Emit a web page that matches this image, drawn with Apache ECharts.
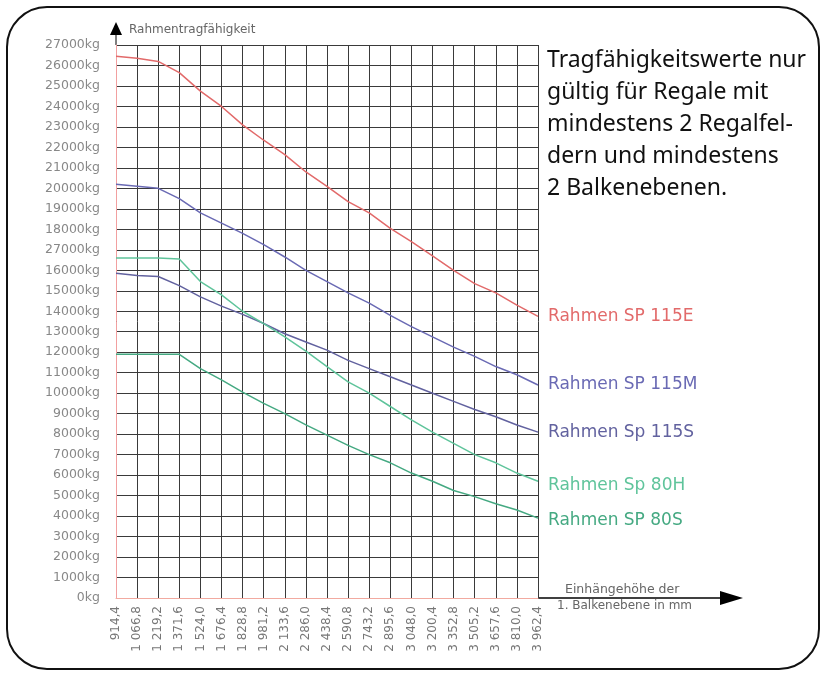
<!DOCTYPE html>
<html>
<head>
<meta charset="utf-8">
<script src="https://cdn.jsdelivr.net/npm/echarts@6/dist/echarts.min.js"></script>
<style>html,body{margin:0;padding:0;background:#fff;}#c{width:828px;height:675px;}</style>
</head>
<body>
<div id="c"></div>
<script>
const categories = ['914,4','1 066,8','1 219,2','1 371,6','1 524,0','1 676,4','1 828,8','1 981,2','2 133,6','2 286,0','2 438,4','2 590,8','2 743,2','2 895,6','3 048,0','3 200,4','3 352,8','3 505,2','3 657,6','3 810,0','3 962,4'];
const yTickLabels = ['0kg','1000kg','2000kg','3000kg','4000kg','5000kg','6000kg','7000kg','8000kg','9000kg','10000kg','11000kg','12000kg','13000kg','14000kg','15000kg','16000kg','27000kg','18000kg','19000kg','20000kg','21000kg','22000kg','23000kg','24000kg','25000kg','26000kg','27000kg'];
const seriesNames = ['Rahmen SP 115E','Rahmen SP 115M','Rahmen Sp 115S','Rahmen Sp 80H','Rahmen SP 80S'];
const sp115E = [26450,26350,26200,25650,24750,24000,23100,22350,21650,20800,20100,19350,18800,18050,17400,16700,16000,15350,14900,14300,13750];
const sp115M = [20200,20100,20000,19500,18800,18300,17800,17250,16650,16000,15450,14900,14400,13800,13250,12750,12250,11800,11300,10900,10400];
const sp115S = [15850,15750,15700,15250,14700,14250,13850,13400,12900,12500,12100,11600,11200,10800,10400,10000,9600,9200,8850,8450,8100];
const sp80H = [16600,16600,16600,16550,15450,14800,14000,13400,12750,12050,11300,10550,10000,9350,8700,8100,7550,7000,6600,6100,5700];
const sp80S = [11900,11900,11900,11900,11200,10650,10050,9500,9000,8450,7950,7450,7000,6600,6100,5700,5250,4950,4600,4300,3900];
const noteLines = ['Tragfähigkeitswerte nur','gültig für Regale mit','mindestens 2 Regalfel-','dern und mindestens','2 Balkenebenen.'];

const lineColors = ['#e26a6a','#6a6ab4','#62629f','#5fc49b','#45a982'];
const labelOffsets = [[0,0],[0,0],[0,0],[0,4],[0,2]];
const allData = [sp115E, sp115M, sp115S, sp80H, sp80S];

const chart = echarts.init(document.getElementById('c'), null, {renderer:'canvas'});
chart.setOption({
  backgroundColor:'#fff',
  animation:false,
  grid:{left:116, top:45, right:290, bottom:77, containLabel:false},
  xAxis:{
    type:'category', data:categories, boundaryGap:false,
    axisLine:{show:true, lineStyle:{color:'#f2aaa0', width:1}},
    axisTick:{show:false},
    splitLine:{show:true, lineStyle:{color:'#3a3a3a', width:1}},
    axisLabel:{rotate:90, interval:0, fontSize:12, color:'#777', fontFamily:'DejaVu Sans', margin:8}
  },
  yAxis:{
    type:'value', min:0, max:27000, interval:1000,
    axisLine:{show:true, lineStyle:{color:'#f2a0a0', width:1}},
    axisTick:{show:false},
    splitLine:{show:true, lineStyle:{color:'#3a3a3a', width:1}},
    axisLabel:{fontSize:12.5, color:'#888', fontFamily:'DejaVu Sans', margin:16,
      formatter:function(v){return yTickLabels[Math.round(v/1000)];}}
  },
  series: allData.map((d,i)=>({
    name:seriesNames[i], type:'line', data:d, symbol:'none',
    lineStyle:{color:lineColors[i], width:1.5},
    itemStyle:{color:lineColors[i]},
    endLabel:{show:true, formatter:seriesNames[i], color:lineColors[i], fontSize:17,
      fontFamily:'DejaVu Sans', distance:10, offset:labelOffsets[i]},
    z:5
  })),
  graphic:[
    {type:'rect', shape:{x:7,y:7,width:812,height:662,r:40}, style:{fill:'none', stroke:'#111', lineWidth:2}, z:0},
    {type:'line', shape:{x1:116,y1:45,x2:116,y2:30}, style:{stroke:'#000', lineWidth:1}},
    {type:'polygon', shape:{points:[[110,35],[122,35],[116,22]]}, style:{fill:'#000'}},
    {type:'text', x:129, y:30, style:{text:'Rahmentragfähigkeit', fontSize:12, fill:'#666', fontFamily:'DejaVu Sans', verticalAlign:'middle'}},
    {type:'line', shape:{x1:538,y1:598,x2:724,y2:598}, style:{stroke:'#000', lineWidth:1.5}},
    {type:'polygon', shape:{points:[[720,591],[720,605],[743,598]]}, style:{fill:'#000'}},
    {type:'text', x:565, y:590, style:{text:'Einhängehöhe der', fontSize:12.5, fill:'#666', fontFamily:'DejaVu Sans', verticalAlign:'middle'}},
    {type:'text', x:557, y:606, style:{text:'1. Balkenebene in mm', fontSize:12, fill:'#666', fontFamily:'DejaVu Sans', verticalAlign:'middle'}},
    {type:'text', x:547, y:44, style:{text:noteLines.join('\n'), fontSize:23, lineHeight:32, fill:'#111', fontFamily:'Noto Sans', verticalAlign:'top'}}
  ]
});
</script>
</body>
</html>
